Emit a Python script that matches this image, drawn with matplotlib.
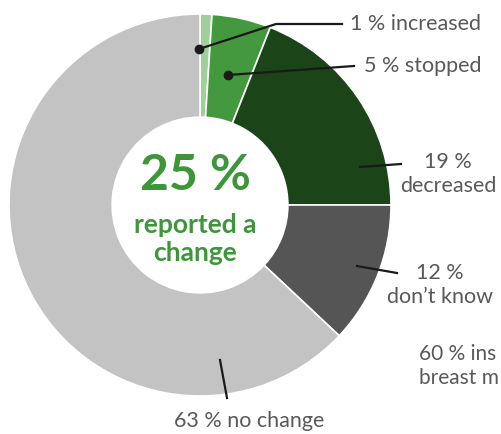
import matplotlib
matplotlib.use("Agg")
import matplotlib.pyplot as plt

categories = ["increased", "stopped", "decreased", "don\u2019t know", "no change"]
values = [1, 5, 19, 12, 63]
colors = ["#9fcf9b", "#44993f", "#1b4419", "#555555", "#c3c3c3"]
label_texts = ["1 % increased", "5 % stopped", "19 %\ndecreased", "12 %\ndon\u2019t know", "63 % no change"]
center_big = "25 %"
center_small = "reported a\nchange"
cut_text = "60 % ins\nbreast m"

plt.rcParams['font.family'] = ['Lato', 'DejaVu Sans']
W, H = 502, 434
fig = plt.figure(figsize=(W / 100, H / 100), dpi=100)
ax = fig.add_axes([0, 0, 1, 1])
cx, cy, R = 200, 434 - 205, 191
ax.pie(values, colors=colors, startangle=90, counterclock=False, radius=R,
       center=(cx, cy), wedgeprops=dict(width=R * 0.54, edgecolor="white", linewidth=1.2))
ax.set_xlim(0, W)
ax.set_ylim(0, H)
ax.set_aspect('equal')
ax.axis('off')

def Y(y):
    return H - y

gray = "#595959"
lc = "#1a1a1a"
fs = 15.5
# 1 % increased
ax.plot([199, 276, 342], [Y(49), Y(24), Y(24)], color=lc, lw=1.6)
ax.plot([199], [Y(49)], 'o', color=lc, ms=6)
ax.text(350, Y(24), label_texts[0], ha='left', va='center', fontsize=fs, color=gray)
# 5 % stopped
ax.plot([228, 354], [Y(75), Y(66)], color=lc, lw=1.6)
ax.plot([228], [Y(75)], 'o', color=lc, ms=6)
ax.text(364, Y(66), label_texts[1], ha='left', va='center', fontsize=fs, color=gray)
# 19 % decreased
ax.plot([360, 401], [Y(167), Y(164)], color=lc, lw=1.6)
ax.text(448, Y(174), label_texts[2], ha='center', va='center', fontsize=fs, color=gray, linespacing=1.2)
# 12 % don't know
ax.plot([357, 397], [Y(266), Y(273)], color=lc, lw=1.6)
ax.text(440, Y(285), label_texts[3], ha='center', va='center', fontsize=fs, color=gray, linespacing=1.2)
# 63 % no change
ax.plot([220, 227], [Y(360), Y(398)], color=lc, lw=1.6)
ax.text(249, Y(421), label_texts[4], ha='center', va='center', fontsize=fs, color=gray)
# text that runs off the right edge in the reference
ax.text(499, Y(366), cut_text, ha='right', va='center', multialignment='left',
        fontsize=15, color=gray, linespacing=1.2)

green = "#3d963a"
ax.text(195, Y(175), center_big, ha='center', va='center', fontsize=36, fontweight='bold', color=green)
ax.text(195, Y(239), center_small, ha='center', va='center', fontsize=19, fontweight='bold', color=green, linespacing=1.2)

fig.savefig("out.png", dpi=100)
